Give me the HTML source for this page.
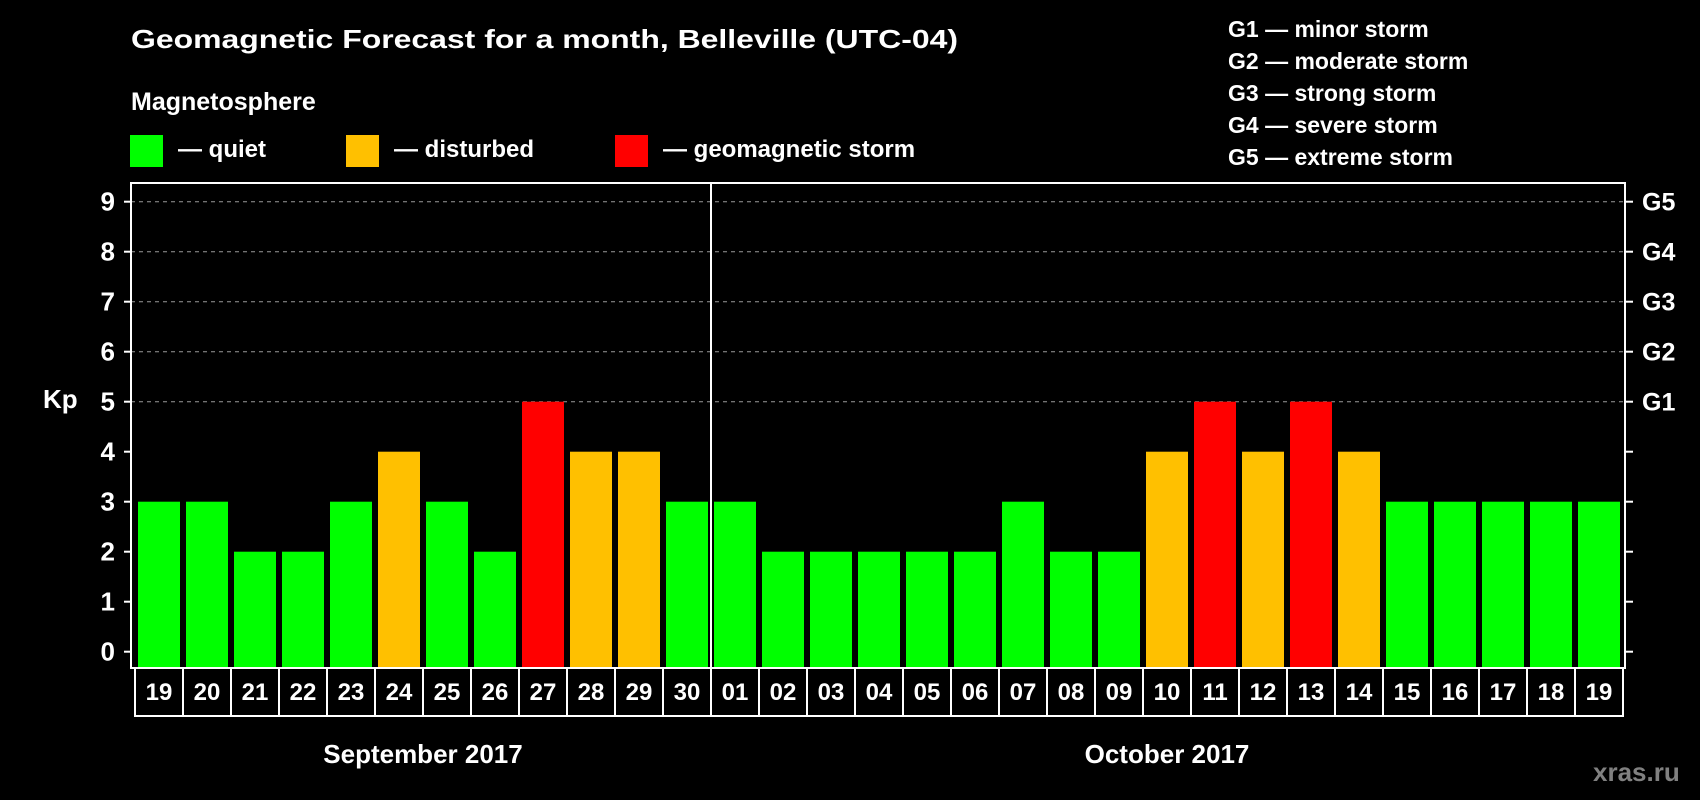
<!DOCTYPE html>
<html><head><meta charset="utf-8"><style>
html,body{margin:0;padding:0;background:#000;}
svg{display:block;font-family:"Liberation Sans",Arial,sans-serif;font-weight:bold;}
</style></head><body>
<svg id="chart" width="1700" height="800" viewBox="0 0 1700 800">
<rect x="0" y="0" width="1700" height="800" fill="#000"/>
<text x="131" y="48" font-size="26" fill="#fff" textLength="827" lengthAdjust="spacingAndGlyphs">Geomagnetic Forecast for a month, Belleville (UTC-04)</text>
<text x="131" y="110" font-size="25" fill="#fff">Magnetosphere</text>
<g><rect x="130" y="135" width="33" height="32" fill="#00ff00"/><text x="178" y="157" font-size="24" fill="#fff">— quiet</text></g>
<g><rect x="346" y="135" width="33" height="32" fill="#ffc000"/><text x="394" y="157" font-size="24" fill="#fff">— disturbed</text></g>
<g><rect x="615" y="135" width="33" height="32" fill="#ff0000"/><text x="663" y="157" font-size="24" fill="#fff">— geomagnetic storm</text></g>
<g font-size="23" fill="#fff">
<text x="1228" y="37">G1 — minor storm</text>
<text x="1228" y="69">G2 — moderate storm</text>
<text x="1228" y="101">G3 — strong storm</text>
<text x="1228" y="133">G4 — severe storm</text>
<text x="1228" y="165">G5 — extreme storm</text>
</g>
<text x="43" y="408" font-size="26" fill="#fff">Kp</text>
<text x="1593" y="781" font-size="26" fill="#808080">xras.ru</text>
<g id="plot"></g>
</svg>
<script>
const days=["19","20","21","22","23","24","25","26","27","28","29","30","01","02","03","04","05","06","07","08","09","10","11","12","13","14","15","16","17","18","19"];
const kp=[3,3,2,2,3,4,3,2,5,4,4,3,3,2,2,2,2,2,3,2,2,4,5,4,5,4,3,3,3,3,3];
const yTicks=[0,1,2,3,4,5,6,7,8,9];
const gLabels=["G1","G2","G3","G4","G5"];
const months=["September 2017","October 2017"];
const monthStart=[0,12];
const NS="http://www.w3.org/2000/svg";
const g=document.getElementById("plot");
const L=131,R=1625,T=183,B=668;
const y=v=>651.7-v*50;
const x0=i=>138+i*48;
function mk(t,a){const e=document.createElementNS(NS,t);for(const k in a)e.setAttribute(k,a[k]);g.appendChild(e);return e;}
// grid
for(const v of [5,6,7,8,9]){
 const ln=mk("line",{x1:L,x2:R,y1:y(v),y2:y(v),stroke:"#999","stroke-dasharray":"4,4","stroke-width":1});
 
 
}
// bars
kp.forEach((v,i)=>{
 const c=v>=5?"#ff0000":(v>=4?"#ffc000":"#00ff00");
 const r=mk("rect",{x:x0(i),y:y(v),width:42,height:B-1-y(v),fill:c});
 
 
});
// frame
const fr=mk("rect",{x:L,y:T,width:R-L,height:B-T,fill:"none",stroke:"#fff","stroke-width":2});


// month separator
const sepX=x0(monthStart[1])-3;
const sp=mk("line",{x1:sepX,x2:sepX,y1:T,y2:B,stroke:"#fff","stroke-width":2});


// y ticks
yTicks.forEach(v=>{
 const t1=mk("line",{x1:124,x2:L,y1:y(v),y2:y(v),stroke:"#fff","stroke-width":2});
 
 
 const t2=mk("line",{x1:R,x2:1633,y1:y(v),y2:y(v),stroke:"#fff","stroke-width":2});
 
 
 const tx=mk("text",{x:115,y:y(v)+9,"font-size":26,fill:"#fff","text-anchor":"end"});
 tx.textContent=v;
 
 
});
gLabels.forEach((s,i)=>{
 const tx=mk("text",{x:1642,y:y(5+i)+9,"font-size":25,fill:"#fff"});
 tx.textContent=s;
 
 
});
// day boxes
days.forEach((d,i)=>{
 const bx=135+i*48;
 const r=mk("rect",{x:bx,y:B,width:48,height:48,fill:"none",stroke:"#fff","stroke-width":2});
 
 
 const tx=mk("text",{x:bx+24,y:B+32,"font-size":24,fill:"#fff","text-anchor":"middle"});
 tx.textContent=d;
 
 
});
months.forEach((m,k)=>{
 const s=monthStart[k],e=(k+1<monthStart.length?monthStart[k+1]:days.length);
 const cx=135+(s+e)*24;
 const tx=mk("text",{x:cx,y:763,"font-size":26,fill:"#fff","text-anchor":"middle"});
 tx.textContent=m;
 
 
});
</script>
</body></html>
